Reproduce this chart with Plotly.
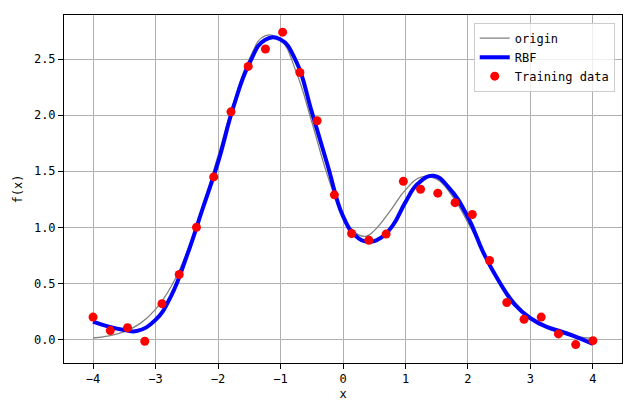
import plotly.graph_objects as go

# Training data (30 samples)
train_x = [-4.0, -3.724, -3.448, -3.172, -2.897, -2.621, -2.345, -2.069, -1.793, -1.517,
           -1.241, -0.966, -0.690, -0.414, -0.138, 0.138, 0.414, 0.690, 0.966, 1.241,
           1.517, 1.793, 2.069, 2.345, 2.621, 2.897, 3.172, 3.448, 3.724, 4.0]
train_y = [0.20, 0.08, 0.105, -0.015, 0.32, 0.58, 1.00, 1.45, 2.03, 2.435,
           2.59, 2.74, 2.38, 1.95, 1.29, 0.945, 0.885, 0.94, 1.41, 1.34,
           1.305, 1.22, 1.115, 0.705, 0.33, 0.18, 0.20, 0.05, -0.045, -0.01]

# Original function
origin_x = [-4.0, -3.75, -3.5, -3.25, -3.0, -2.75, -2.5, -2.25, -2.0, -1.75, -1.5, -1.25,
            -1.0, -0.75, -0.5, -0.25, 0.0, 0.125, 0.25, 0.375, 0.5, 0.75, 1.0, 1.25, 1.5, 1.75,
            2.0, 2.25, 2.5, 2.75, 3.0, 3.25, 3.5, 3.75, 4.0]
origin_y = [0.014, 0.032, 0.070, 0.142, 0.269, 0.473, 0.773, 1.171, 1.638, 2.111, 2.500, 2.707,
            2.669, 2.387, 1.942, 1.466, 1.100, 0.995, 0.933, 0.922, 0.971, 1.142, 1.334, 1.448, 1.429, 1.279,
            1.042, 0.777, 0.532, 0.335, 0.196, 0.106, 0.053, 0.025, 0.011]

# RBF fitted curve
rbf_x = [-4.0, -3.75, -3.5, -3.3, -3.0, -2.75, -2.5, -2.25, -2.0, -1.75, -1.5,
         -1.25, -1.0, -0.75, -0.5, -0.25, 0.0, 0.2, 0.4, 0.6, 0.8, 1.0,
         1.2, 1.45, 1.7, 2.0, 2.25, 2.5, 2.75, 3.0, 3.25, 3.5, 3.75, 4.0]
rbf_y = [0.16, 0.115, 0.085, 0.076, 0.175, 0.39, 0.745, 1.16, 1.58, 2.08, 2.46,
         2.67, 2.675, 2.48, 2.03, 1.56, 1.10, 0.925, 0.872, 0.905, 1.02, 1.225,
         1.39, 1.46, 1.35, 1.09, 0.77, 0.515, 0.31, 0.19, 0.115, 0.07, 0.02, -0.04]

FONT = "DejaVu Sans Mono"

fig = go.Figure()
fig.add_trace(go.Scatter(x=origin_x, y=origin_y, mode="lines", name="origin",
                         line=dict(color="#808080", width=1.3, shape="spline", smoothing=1.3)))
fig.add_trace(go.Scatter(x=rbf_x, y=rbf_y, mode="lines", name="RBF",
                         line=dict(color="blue", width=4, shape="spline", smoothing=1.3)))
fig.add_trace(go.Scatter(x=train_x, y=train_y, mode="markers", name="Training data",
                         marker=dict(color="red", size=9, line=dict(width=0))))

axis_common = dict(
    showgrid=True, gridcolor="#b0b0b0", gridwidth=0.8,
    showline=True, linecolor="black", linewidth=1, mirror=True,
    ticks="outside", ticklen=5, tickcolor="black", tickwidth=1,
    zeroline=False, automargin=False,
    tickfont=dict(family=FONT, size=12, color="black"),
)

# page body has an 8px default margin, so the figure is sized to fit the 640x409 window
fig.update_layout(
    width=632, height=401,
    margin=dict(l=56, r=18, t=7, b=46),
    paper_bgcolor="white", plot_bgcolor="white",
    font=dict(family=FONT, size=12, color="black"),
    xaxis=dict(range=[-4.465, 4.465], tickvals=[-4, -3, -2, -1, 0, 1, 2, 3, 4],
               title=dict(text="x", standoff=4, font=dict(family=FONT, size=12)), **axis_common),
    yaxis=dict(range=[-0.209, 2.893], tickvals=[0, 0.5, 1.0, 1.5, 2.0, 2.5], tickformat=".1f",
               title=dict(text="f(x)", standoff=8, font=dict(family=FONT, size=12)), **axis_common),
    legend=dict(x=0.987, y=0.978, xanchor="right", yanchor="top",
                bgcolor="rgba(255,255,255,0.8)", bordercolor="#cccccc", borderwidth=1,
                font=dict(family=FONT, size=12), itemwidth=30, tracegroupgap=0),
    showlegend=True,
)

fig.write_html("out.html")
